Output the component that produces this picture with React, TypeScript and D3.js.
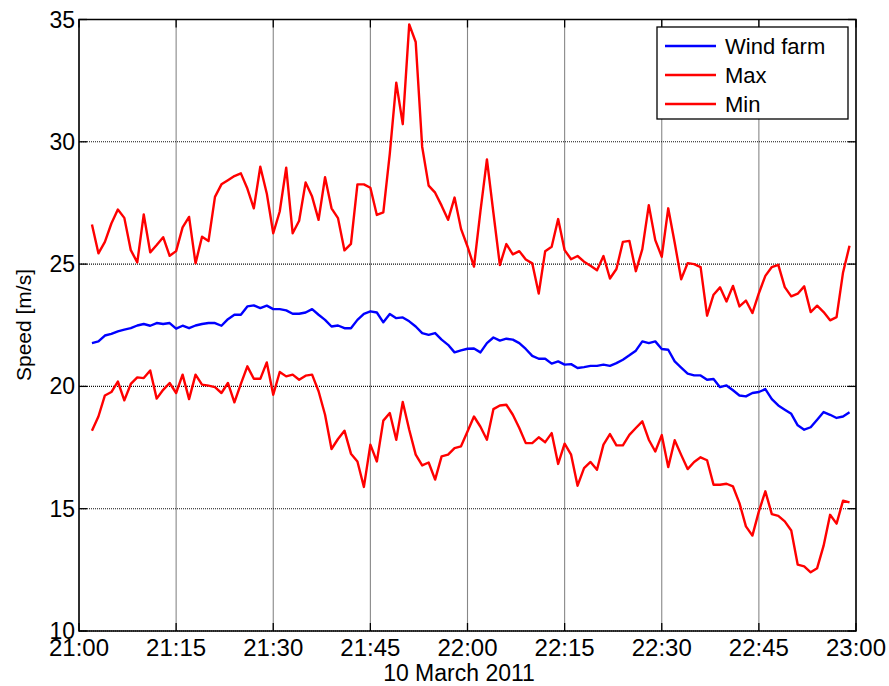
import React from "react";
import * as d3 from "d3";

// minutes after 21:00 of the first sample; one sample per minute
const START_MINUTE = 2;

const windFarm = [
  21.77, 21.84, 22.08, 22.15, 22.25, 22.32, 22.38, 22.49, 22.55, 22.48,
  22.59, 22.55, 22.59, 22.36, 22.48, 22.38, 22.49, 22.55, 22.59, 22.59,
  22.48, 22.75, 22.93, 22.93, 23.27, 23.31, 23.2, 23.3, 23.16, 23.16,
  23.11, 22.97, 22.97, 23.02, 23.16, 22.93, 22.72, 22.45, 22.49, 22.38,
  22.38, 22.72, 22.97, 23.07, 23.02, 22.62, 22.96, 22.79, 22.82, 22.66,
  22.45, 22.18, 22.11, 22.18, 21.91, 21.7, 21.39, 21.47, 21.54, 21.55,
  21.39, 21.77, 22.0, 21.87, 21.95, 21.91, 21.77, 21.53, 21.25, 21.13,
  21.13, 20.93, 21.02, 20.89, 20.91, 20.75, 20.79, 20.84, 20.84, 20.89,
  20.84, 20.95, 21.09, 21.27, 21.46, 21.84, 21.77, 21.84, 21.53, 21.5,
  21.02, 20.77, 20.52, 20.45, 20.45, 20.27, 20.3, 19.97, 20.04, 19.84,
  19.63, 19.59, 19.73, 19.77, 19.89, 19.48, 19.22, 19.05, 18.88, 18.41,
  18.23, 18.33, 18.64, 18.95, 18.84, 18.71, 18.77, 18.94,
];

const maxSpeed = [
  26.62, 25.44, 25.91, 26.66, 27.23, 26.89, 25.57, 25.07, 27.03, 25.48,
  25.78, 26.1, 25.34, 25.53, 26.5, 26.93, 25.03, 26.12, 25.94, 27.75,
  28.26, 28.43, 28.6, 28.71, 28.09, 27.28, 28.98, 27.89, 26.26, 27.15,
  28.94, 26.26, 26.77, 28.34, 27.76, 26.81, 28.55, 27.28, 26.88, 25.56,
  25.83, 28.26, 28.26, 28.12, 27.01, 27.11, 29.52, 32.42, 30.72, 34.8,
  34.08, 29.8, 28.21, 27.92, 27.39, 26.81, 27.72, 26.44, 25.72, 24.9,
  27.17, 29.28, 27.1, 24.96, 25.82, 25.4, 25.53, 25.19, 25.03, 23.8,
  25.53, 25.71, 26.84, 25.57, 25.2, 25.33, 25.1, 24.93, 24.75, 25.33,
  24.41, 24.8, 25.91, 25.95, 24.71, 25.61, 27.41, 25.98, 25.3, 27.28,
  25.87, 24.38, 25.04, 25.0, 24.88, 22.89, 23.75, 24.05, 23.47, 24.11,
  23.27, 23.51, 23.0, 23.81, 24.52, 24.88, 24.97, 24.06, 23.68, 23.79,
  24.09, 23.04, 23.3, 23.04, 22.7, 22.83, 24.66, 25.75,
];

const minSpeed = [
  18.19, 18.77, 19.63, 19.77, 20.2, 19.43, 20.1, 20.37, 20.34, 20.65,
  19.5, 19.86, 20.14, 19.73, 20.48, 19.48, 20.48, 20.07, 20.03, 19.97,
  19.73, 20.14, 19.35, 20.1, 20.82, 20.31, 20.31, 20.98, 19.66, 20.59,
  20.41, 20.48, 20.27, 20.44, 20.48, 19.8, 18.84, 17.44, 17.85, 18.19,
  17.25, 16.93, 15.89, 17.62, 16.93, 18.6, 18.91, 17.82, 19.36, 18.23,
  17.21, 16.77, 16.89, 16.19, 17.14, 17.21, 17.48, 17.55, 18.16, 18.77,
  18.35, 17.82, 19.07, 19.22, 19.25, 18.84, 18.3, 17.68, 17.68, 17.92,
  17.72, 18.09, 16.83, 17.66, 17.21, 15.94, 16.66, 16.91, 16.59, 17.62,
  18.05, 17.59, 17.59, 18.02, 18.3, 18.57, 17.82, 17.34, 18.01, 16.7,
  17.8, 17.2, 16.62, 16.91, 17.1, 16.98, 15.98, 15.98, 16.02, 15.91,
  15.23, 14.28, 13.9, 14.89, 15.71, 14.78, 14.71, 14.48, 14.11, 12.71,
  12.64, 12.4, 12.57, 13.49, 14.75, 14.39, 15.33, 15.26,
];

const xTickMinutes = [0, 15, 30, 45, 60, 75, 90, 105, 120];
const xTickLabels = ["21:00", "21:15", "21:30", "21:45", "22:00", "22:15", "22:30", "22:45", "23:00"];
const yTicks = [10, 15, 20, 25, 30, 35];

const seriesNames = ["Wind farm", "Max", "Min"];
const seriesColors = ["#0000ff", "#ff0000", "#ff0000"];

const W = 889;
const H = 686;
const M = { left: 79, right: 856, top: 19.5, bottom: 631 };
const FONT = "'Liberation Sans', Arial, sans-serif";

export default function App() {
  const x = d3.scaleLinear().domain([0, 120]).range([M.left, M.right]);
  const y = d3.scaleLinear().domain([10, 35]).range([M.bottom, M.top]);
  const line = d3
    .line<number>()
    .x((_, i) => x(START_MINUTE + i))
    .y((d) => y(d));
  const series = [windFarm, maxSpeed, minSpeed];
  const tickLen = 8;

  const leg = { x: 657, y: 27, w: 191, h: 92 };

  return (
    <div style={{ position: "absolute", left: 0, top: 0 }}>
      <svg width={W} height={H} style={{ display: "block", background: "#fff" }} fontFamily={FONT}>
        {/* grid */}
        {xTickMinutes.map((m) => (
          <line key={"gx" + m} x1={x(m)} x2={x(m)} y1={M.top} y2={M.bottom}
            stroke="#111" strokeWidth={1.1} strokeDasharray="1 1" />
        ))}
        {yTicks.map((v) => (
          <line key={"gy" + v} x1={M.left} x2={M.right} y1={y(v)} y2={y(v)}
            stroke="#111" strokeWidth={1.1} strokeDasharray="1 1" />
        ))}
        {/* series */}
        {series.map((s, i) => (
          <path key={"s" + i} d={line(s) || ""} fill="none" stroke={seriesColors[i]}
            strokeWidth={2.4} strokeLinejoin="round" />
        ))}
        {/* axes box */}
        <rect x={M.left} y={M.top} width={M.right - M.left} height={M.bottom - M.top}
          fill="none" stroke="#000" strokeWidth={1.5} />
        {/* ticks */}
        {xTickMinutes.map((m) => (
          <g key={"tx" + m}>
            <line x1={x(m)} x2={x(m)} y1={M.bottom} y2={M.bottom - tickLen} stroke="#000" strokeWidth={1.3} />
            <line x1={x(m)} x2={x(m)} y1={M.top} y2={M.top + tickLen} stroke="#000" strokeWidth={1.3} />
          </g>
        ))}
        {yTicks.map((v) => (
          <g key={"ty" + v}>
            <line x1={M.left} x2={M.left + tickLen} y1={y(v)} y2={y(v)} stroke="#000" strokeWidth={1.3} />
            <line x1={M.right} x2={M.right - tickLen} y1={y(v)} y2={y(v)} stroke="#000" strokeWidth={1.3} />
          </g>
        ))}
        {/* tick labels */}
        {xTickMinutes.map((m, i) => (
          <text key={"lx" + m} x={x(m)} y={656} textAnchor="middle" fontSize={24} fill="#000">
            {xTickLabels[i]}
          </text>
        ))}
        {yTicks.map((v) => (
          <text key={"ly" + v} x={75} y={y(v) + 8} textAnchor="end" fontSize={23} fill="#000">
            {v}
          </text>
        ))}
        {/* axis titles */}
        <text x={459} y={681} textAnchor="middle" fontSize={23} fill="#000">10 March 2011</text>
        <text transform={`translate(31,325) rotate(-90)`} textAnchor="middle" fontSize={21} fill="#000">
          Speed [m/s]
        </text>
        {/* legend */}
        <rect x={leg.x} y={leg.y} width={leg.w} height={leg.h} fill="#fff" stroke="#000" strokeWidth={1.3} />
        {seriesNames.map((n, i) => {
          const ly = 46 + i * 29;
          return (
            <g key={"lg" + i}>
              <line x1={665} x2={716} y1={ly} y2={ly} stroke={seriesColors[i]} strokeWidth={2.4} />
              <text x={725} y={ly + 8} fontSize={22} fill="#000">{n}</text>
            </g>
          );
        })}
      </svg>
    </div>
  );
}
